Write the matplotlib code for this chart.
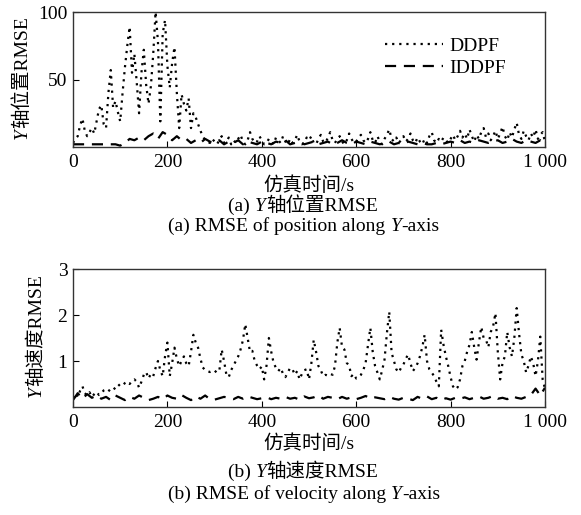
import numpy as np
import matplotlib
matplotlib.use("Agg")
import matplotlib.pyplot as plt

# ---------------- data ----------------
# DDPF sampled every 5 s, IDDPF every 10 s (0 ... 1000 s)
pos_ddpf = [
    3, 6, 8, 16, 21, 12, 8, 11, 14, 10, 19, 28, 31, 17, 14, 40, 57, 29, 34, 26,
    19, 40, 59, 75, 89, 55, 69, 48, 25, 55, 72, 46, 32, 45, 69, 100, 78, 19, 84, 94,
    60, 44, 62, 74, 40, 14, 39, 32, 27, 36, 14, 25, 22, 17, 12, 8, 5, 4,
    3, 6, 4, 2, 5, 8, 3, 4, 7, 2, 5, 3, 6, 9, 4, 2, 5, 11, 6, 3, 4, 8,
    5, 2, 3, 6, 4, 2, 7, 5, 3, 8, 4, 2, 6, 3, 5, 9, 4, 2, 3, 7,
    5, 8, 3, 2, 6, 9, 4, 3, 7, 11, 5, 3, 6, 8, 4, 2, 5, 10, 6, 3,
    4, 7, 9, 5, 3, 6, 11, 5, 3, 8, 4, 2, 6, 9, 13, 6, 4, 7, 3, 5,
    8, 4, 6, 10, 5, 3, 7, 4, 2, 6, 3, 8, 11, 5, 3, 6, 4, 7, 5, 3,
    6, 9, 5, 8, 12, 7, 10, 6, 13, 8, 4, 9, 6, 11, 14, 7, 10, 5, 8, 12,
    6, 10, 15, 8, 5, 11, 7, 13, 18, 9, 6, 12, 8, 5, 10, 7, 13, 6, 9, 11, 4,
]
pos_iddpf = [
    2, 2, 2, 2, 2, 2, 2, 2, 2, 2, 1, 3, 6, 5, 7, 5, 8, 10, 6, 11,
    9, 5, 8, 5, 6, 3, 5, 3, 6, 4, 3, 5, 2, 4, 3, 5, 2, 4, 3, 2,
    4, 3, 2, 4, 3, 5, 2, 3, 4, 2, 3, 4, 2, 3, 4, 2, 3, 5, 3, 2,
    4, 3, 2, 4, 3, 2, 3, 4, 2, 3, 2, 4, 3, 2, 3, 2, 2, 3, 2, 3,
    4, 3, 5, 3, 4, 3, 5, 4, 3, 4, 5, 3, 4, 6, 4, 3, 5, 4, 3, 5, 3,
]
vel_ddpf = [
    0.20, 0.30, 0.22, 0.35, 0.45, 0.30, 0.25, 0.32, 0.22, 0.28,
    0.33, 0.26, 0.30, 0.36, 0.38, 0.34, 0.40, 0.43, 0.38, 0.45,
    0.50, 0.47, 0.52, 0.55, 0.50, 0.57, 0.60, 0.55, 0.42, 0.55,
    0.70, 0.76, 0.62, 0.72, 0.67, 0.85, 1.00, 0.80, 0.67, 1.10,
    1.40, 0.67, 0.95, 1.29, 1.05, 0.89, 1.00, 1.10, 0.95, 0.89,
    1.20, 1.57, 1.40, 1.29, 1.05, 0.86, 0.80, 0.78, 0.76, 0.78,
    0.75, 0.80, 0.78, 1.25, 1.00, 0.70, 0.65, 0.80, 0.90, 1.00,
    1.10, 1.25, 1.45, 1.80, 1.50, 1.20, 1.22, 1.00, 0.90, 0.82,
    0.88, 0.60, 0.90, 1.50, 1.20, 0.96, 0.85, 0.78, 0.85, 0.72,
    0.65, 0.75, 0.85, 0.82, 0.70, 0.78, 0.60, 0.72, 0.80, 0.82,
    0.60, 0.95, 1.46, 1.20, 0.89, 0.80, 0.67, 0.70, 0.68, 0.72,
    0.70, 0.89, 1.40, 1.72, 1.30, 1.25, 0.96, 0.90, 0.67, 0.72,
    0.62, 0.65, 0.70, 0.80, 0.96, 1.35, 1.72, 1.20, 0.89, 0.75,
    0.60, 0.80, 1.03, 1.60, 2.07, 1.18, 1.00, 0.82, 0.75, 0.85,
    0.92, 1.05, 1.14, 0.95, 0.78, 0.85, 0.95, 1.10, 1.30, 1.57,
    1.00, 0.82, 0.75, 0.67, 0.55, 0.45, 1.68, 1.35, 1.10, 0.89,
    0.65, 0.45, 0.38, 0.43, 0.60, 0.89, 1.00, 1.20, 1.35, 1.63,
    1.30, 1.03, 1.40, 1.74, 1.50, 1.46, 1.30, 1.63, 1.75, 2.04,
    1.20, 0.60, 0.96, 1.10, 1.63, 1.30, 1.10, 1.50, 2.15, 1.60,
    1.14, 1.00, 0.75, 0.90, 1.10, 0.95, 0.67, 1.00, 1.53, 0.60, 0.40,
]
vel_iddpf = [
    0.15, 0.30, 0.18, 0.28, 0.20, 0.25, 0.18, 0.22, 0.15, 0.25,
    0.20, 0.15, 0.22, 0.18, 0.25, 0.20, 0.15, 0.18, 0.22, 0.17,
    0.25, 0.20, 0.18, 0.26, 0.20, 0.15, 0.23, 0.18, 0.25, 0.17,
    0.16, 0.19, 0.22, 0.20, 0.17, 0.22, 0.18, 0.23, 0.20, 0.17,
    0.19, 0.21, 0.17, 0.20, 0.18, 0.22, 0.18, 0.20, 0.16, 0.23,
    0.19, 0.21, 0.25, 0.18, 0.22, 0.20, 0.17, 0.22, 0.18, 0.21,
    0.17, 0.20, 0.24, 0.18, 0.21, 0.19, 0.17, 0.22, 0.18, 0.16,
    0.20, 0.18, 0.15, 0.22, 0.18, 0.23, 0.17, 0.20, 0.15, 0.19,
    0.16, 0.20, 0.18, 0.21, 0.17, 0.20, 0.23, 0.18, 0.20, 0.24,
    0.18, 0.20, 0.17, 0.24, 0.20, 0.18, 0.22, 0.26, 0.40, 0.25, 0.42,
]
t_fine = np.arange(len(pos_ddpf)) * 5
t_coarse = np.arange(len(pos_iddpf)) * 10
t_fine_v = np.arange(len(vel_ddpf)) * 5
t_coarse_v = np.arange(len(vel_iddpf)) * 10

xticks = [0, 200, 400, 600, 800, 1000]
xticklabels = ["0", "200", "400", "600", "800", "1 000"]
pos_yticks = [50, 100]
vel_yticks = [1, 2, 3]
series_names = ["DDPF", "IDDPF"]

# ---------------- style ----------------
LATIN = "Liberation Serif"
FAM = [LATIN, "Noto Sans CJK SC", "DejaVu Sans"]
plt.rcParams["font.family"] = FAM
FS = 14

W, H = 581, 515
fig = plt.figure(figsize=(W / 100, H / 100), dpi=100)

def px_axes(l, t, r, b):
    return fig.add_axes([l / W, 1 - b / H, (r - l) / W, (b - t) / H])

ax1 = px_axes(73, 12, 545, 147)
ax2 = px_axes(73, 269, 545, 407)

dot = (0, (1.0, 2.2))
dash = (0, (5, 3.5))

ax1.plot(t_fine, pos_ddpf, color="black", lw=1.6, linestyle=dot, label=series_names[0])
ax1.plot(t_coarse, pos_iddpf, color="black", lw=1.6, linestyle=dash, label=series_names[1])
ax2.plot(t_fine_v, vel_ddpf, color="black", lw=1.6, linestyle=dot)
ax2.plot(t_coarse_v, vel_iddpf, color="black", lw=1.6, linestyle=dash)

ax1.set_ylim(0, 100)
ax2.set_ylim(0, 3)
ax1.set_yticks(pos_yticks)
ax2.set_yticks(vel_yticks)
for ax in (ax1, ax2):
    ax.set_xlim(0, 1000)
    ax.set_xticks(xticks)
    ax.set_xticklabels(xticklabels)
    ax.tick_params(direction="in", length=4, width=0.8, labelsize=FS, colors="black")
    ax.tick_params(axis="x", pad=5)
    ax.tick_params(axis="y", pad=4)
    for s in ax.spines.values():
        s.set_color("#333333")
        s.set_linewidth(1.0)
    for lbl in ax.get_xticklabels() + ax.get_yticklabels():
        lbl.set_family(LATIN)

leg = ax1.legend(loc="center left", bbox_to_anchor=((385 - 73) / 472, 1 - (57 - 12) / 135),
                 frameon=False, fontsize=FS, handlelength=3.0, handletextpad=0.3,
                 borderpad=0, borderaxespad=0, labelspacing=0.2)
for txt in leg.get_texts():
    txt.set_family(LATIN)

# ---------------- rich text helper ----------------
renderer = fig.canvas.get_renderer()

def rich(x_px, y_px, parts, rotation=0):
    """parts: list of (string, dict). Horizontal: x_px is centre, y_px baseline.
    Rotated 90: x_px is baseline, y_px is centre."""
    objs = []
    lengths = []
    for s, kw in parts:
        kw2 = dict(fontsize=FS, family=FAM)
        kw2.update(kw)
        t = fig.text(0, 0, s, ha="left", va="baseline", rotation=rotation,
                     rotation_mode="anchor", **kw2)
        bb = t.get_window_extent(renderer)
        lengths.append(bb.width if rotation == 0 else bb.height)
        objs.append(t)
    total = sum(lengths)
    if rotation == 0:
        pos = x_px - total / 2
        for t, L in zip(objs, lengths):
            t.set_position((pos / W, 1 - y_px / H))
            pos += L
    else:
        pos = y_px + total / 2
        for t, L in zip(objs, lengths):
            t.set_position((x_px / W, 1 - pos / H))
            pos -= L

ital = dict(family=LATIN, style="italic")

# y labels
rich(27, 78, [("Y", ital), ("轴位置RMSE", {})], rotation=90)
rich(41, 336, [("Y", ital), ("轴速度RMSE", {})], rotation=90)

# x labels
rich(309, 191, [("仿真时间/s", {})])
rich(309, 449, [("仿真时间/s", {})])

# captions
rich(303, 211, [("(a) ", {}), ("Y", ital), ("轴位置RMSE", {})])
rich(304, 231, [("(a) RMSE of position along ", {}), ("Y", ital), ("-axis", {})])
rich(303, 477, [("(b) ", {}), ("Y", ital), ("轴速度RMSE", {})])
rich(304, 499, [("(b) RMSE of velocity along ", {}), ("Y", ital), ("-axis", {})])

fig.savefig("out.png", dpi=100)
